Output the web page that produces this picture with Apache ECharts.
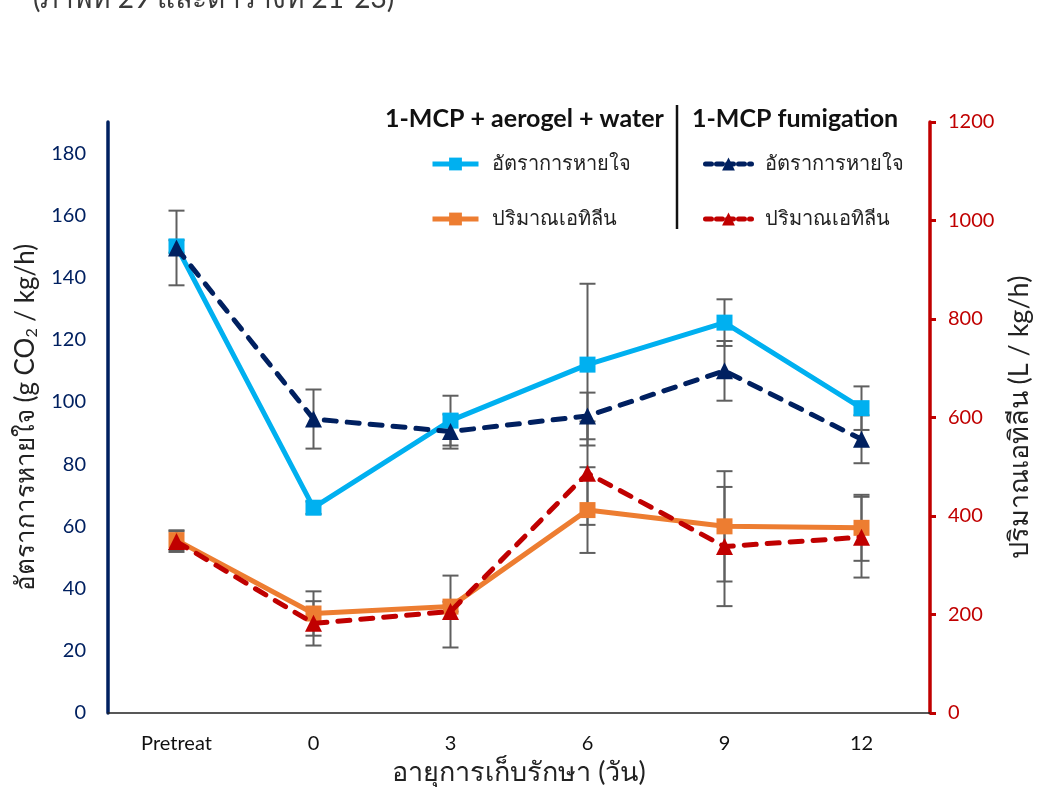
<!DOCTYPE html>
<html>
<head>
<meta charset="utf-8">
<script src="https://cdn.jsdelivr.net/npm/echarts@6/dist/echarts.min.js"></script>
<style>
html,body{margin:0;padding:0;background:#fff;overflow:hidden;}
#chart{width:1042px;height:787px;}
</style>
</head>
<body>
<div id="chart"></div>
<script>
// Storage days
var categories = ['Pretreat', '0', '3', '6', '9', '12'];

// Respiration rate (g CO2 / kg/h), left axis
var respAerogel = [150, 66, 94, 112, 125.5, 98];
var respAerogelErr = [2, 2, 8, 26, 7.5, 7];
var respFum = [149.5, 94.5, 90.5, 95.5, 110, 88];
var respFumErr = [12, 9.5, 5.5, 7.5, 9.6, 7.7];

// Ethylene (L / kg/h), right axis
var ethAerogel = [351, 202, 216, 412, 379, 376];
var ethAerogelErr = [20, 45, 10, 87, 112, 67];
var ethFum = [348, 182, 206, 487, 338, 357];
var ethFumErr = [21, 45, 73, 105, 121, 82];

var leftTicks = [0, 20, 40, 60, 80, 100, 120, 140, 160, 180];

var FONT = 'Lato, "Noto Sans", sans-serif';
var C_BLUE = '#00B0F0', C_ORANGE = '#ED7D31', C_NAVY = '#002060', C_RED = '#C00000';
var C_ERR = '#5f5f5f';
var DASH = [12, 11];

function errRows(vals, errs) {
  return vals.map(function (v, i) { return [i, v - errs[i], v + errs[i]]; });
}

function errSeries(vals, errs, yIdx) {
  return {
    type: 'custom',
    yAxisIndex: yIdx,
    z: 1,
    silent: true,
    data: errRows(vals, errs),
    encode: { x: 0, y: [1, 2] },
    renderItem: function (params, api) {
      var x = api.value(0);
      var lo = api.coord([x, api.value(1)]);
      var hi = api.coord([x, api.value(2)]);
      var cap = 8;
      var st = { stroke: C_ERR, lineWidth: 2 };
      return {
        type: 'group',
        children: [
          { type: 'line', shape: { x1: lo[0], y1: lo[1], x2: hi[0], y2: hi[1] }, style: st },
          { type: 'line', shape: { x1: lo[0] - cap, y1: lo[1], x2: lo[0] + cap, y2: lo[1] }, style: st },
          { type: 'line', shape: { x1: hi[0] - cap, y1: hi[1], x2: hi[0] + cap, y2: hi[1] }, style: st }
        ]
      };
    }
  };
}

function lineSeries(name, vals, color, yIdx, symbol, dashed, z) {
  return {
    name: name,
    type: 'line',
    yAxisIndex: yIdx,
    data: vals,
    z: z,
    symbol: symbol,
    symbolSize: symbol === 'rect' ? 16 : 17,
    showAllSymbol: true,
    lineStyle: { color: color, width: 5, type: dashed ? DASH : 'solid', cap: dashed ? 'round' : 'butt' },
    itemStyle: { color: color },
    emphasis: { disabled: true }
  };
}

var legendLabels = {
  'resp-aerogel': 'อัตราการหายใจ',
  'eth-aerogel': 'ปริมาณเอทิลีน',
  'resp-fum': 'อัตราการหายใจ',
  'eth-fum': 'ปริมาณเอทิลีน'
};

function legendBox(names, left, dashed) {
  return {
    data: names,
    orient: 'vertical',
    left: left, top: 149,
    itemWidth: 46, itemHeight: 16, itemGap: 35,
    formatter: function (n) { return legendLabels[n]; },
    lineStyle: { width: 5, type: dashed ? [6, 5] : 'solid' },
    textStyle: { fontSize: 20, color: '#222', fontFamily: FONT, padding: [0, 0, 0, 8] },
    selectedMode: false
  };
}

var chart = echarts.init(document.getElementById('chart'), null, { renderer: 'canvas' });

chart.setOption({
  animation: false,
  backgroundColor: '#ffffff',
  textStyle: { fontFamily: FONT },
  grid: { left: 108, right: 112, top: 122, bottom: 74, containLabel: false, outerBoundsMode: 'none' },
  graphic: [
    {
      type: 'text', left: 33, top: -15,
      style: { text: '(ภาพที่ 29 และตารางที่ 21-23)', font: '28px ' + FONT, fill: '#3a3a3a' }
    },
    {
      type: 'text', left: 385, top: 106,
      style: { text: '1-MCP + aerogel + water', font: 'bold 25px ' + FONT, fill: '#111' }
    },
    {
      type: 'text', left: 692, top: 106,
      style: { text: '1-MCP fumigation', font: 'bold 25px ' + FONT, fill: '#111' }
    },
    {
      type: 'line', shape: { x1: 677, y1: 105, x2: 677, y2: 229 },
      style: { stroke: '#111', lineWidth: 2.5 }
    }
  ],
  legend: [
    legendBox(['resp-aerogel', 'eth-aerogel'], 425, false),
    legendBox(['resp-fum', 'eth-fum'], 698, true)
  ],
  xAxis: {
    type: 'category',
    data: categories,
    boundaryGap: true,
    axisLine: { lineStyle: { color: '#222', width: 1.5 } },
    axisTick: { show: false },
    axisLabel: { fontSize: 20, color: '#111', margin: 21, fontFamily: FONT },
    name: 'อายุการเก็บรักษา (วัน)',
    nameLocation: 'middle',
    nameGap: 42,
    nameTextStyle: { fontSize: 27, color: '#222', fontFamily: FONT },
    splitLine: { show: false }
  },
  yAxis: [
    {
      type: 'value',
      min: 0, max: 190, interval: 20,
      position: 'left',
      axisLine: { show: true, lineStyle: { color: C_NAVY, width: 3.5 } },
      axisTick: { show: false },
      splitLine: { show: false },
      axisLabel: {
        fontSize: 20, color: C_NAVY, margin: 22, fontFamily: FONT,
        showMaxLabel: false,
        formatter: function (v) { return leftTicks.indexOf(v) >= 0 ? String(v) : ''; }
      },
      name: 'อัตราการหายใจ (g CO{sub|2} / kg/h)',
      nameLocation: 'middle',
      nameRotate: 90,
      nameGap: 64,
      nameTextStyle: {
        fontSize: 26, color: '#222', fontFamily: FONT,
        rich: { sub: { fontSize: 16, color: '#222', padding: [13, 0, 0, 0], fontFamily: FONT } }
      }
    },
    {
      type: 'value',
      min: 0, max: 1200, interval: 200,
      position: 'right',
      axisLine: { show: true, lineStyle: { color: C_RED, width: 3.5 } },
      axisTick: { show: true, length: 6, lineStyle: { color: C_RED, width: 3 } },
      splitLine: { show: false },
      axisLabel: {
        fontSize: 20, color: C_RED, margin: 18, fontFamily: FONT,
        formatter: function (v) { return String(v); }
      },
      name: 'ปริมาณเอทิลีน (L / kg/h)',
      nameLocation: 'middle',
      nameRotate: 90,
      nameGap: 74,
      nameTextStyle: { fontSize: 27, color: '#222', fontFamily: FONT }
    }
  ],
  series: [
    errSeries(respAerogel, respAerogelErr, 0),
    errSeries(respFum, respFumErr, 0),
    errSeries(ethAerogel, ethAerogelErr, 1),
    errSeries(ethFum, ethFumErr, 1),
    lineSeries('resp-aerogel', respAerogel, C_BLUE, 0, 'rect', false, 3),
    lineSeries('eth-aerogel', ethAerogel, C_ORANGE, 1, 'rect', false, 3),
    lineSeries('resp-fum', respFum, C_NAVY, 0, 'triangle', true, 4),
    lineSeries('eth-fum', ethFum, C_RED, 1, 'triangle', true, 4)
  ]
});
</script>
</body>
</html>
